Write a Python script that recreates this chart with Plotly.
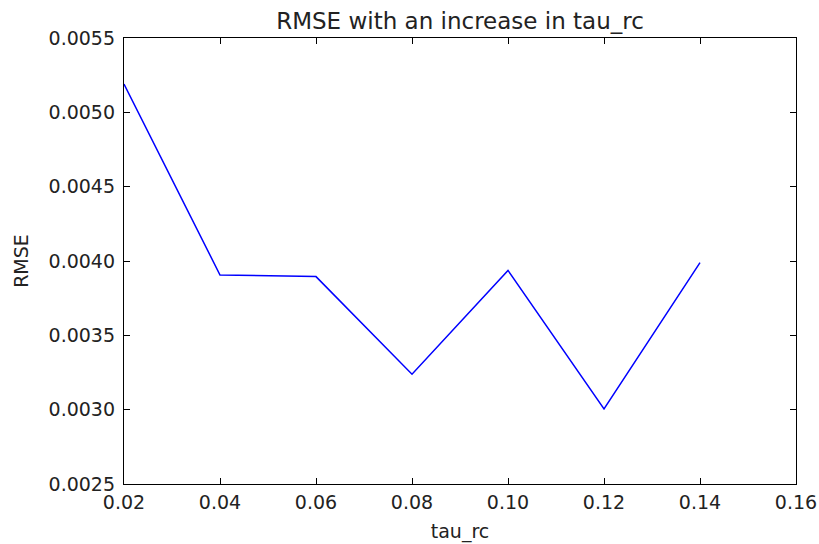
import plotly.graph_objects as go

tau_rc = [0.02, 0.04, 0.06, 0.08, 0.10, 0.12, 0.14]
rmse = [0.00519, 0.003906, 0.003895, 0.003238, 0.003937, 0.003005, 0.003989]

x_ticks = [0.02, 0.04, 0.06, 0.08, 0.10, 0.12, 0.14, 0.16]
y_ticks = [0.0025, 0.0030, 0.0035, 0.0040, 0.0045, 0.0050, 0.0055]

FONT = "DejaVu Sans"

fig = go.Figure()
fig.add_trace(go.Scatter(
    x=tau_rc, y=rmse, mode="lines",
    line=dict(color="#0000ff", width=1.5),
    showlegend=False,
))

axis_common = dict(
    automargin=False,
    showgrid=False, zeroline=False,
    showline=True, linecolor="black", linewidth=1.3,
    mirror="ticks", ticks="inside", ticklen=6, tickwidth=1, tickcolor="black",
    tickfont=dict(family=FONT, size=19, color="#222222"),
)

fig.update_layout(
    width=819, height=544,
    margin=dict(l=124, r=23, t=38, b=60),
    paper_bgcolor="white", plot_bgcolor="white",
    title=dict(
        text="RMSE with an increase in tau_rc",
        x=0.5, xref="paper", xanchor="center",
        y=1 - 21 / 544, yref="container", yanchor="middle",
        font=dict(family=FONT, size=23, color="#222222"),
    ),
    xaxis=dict(
        range=[0.02, 0.16], tickvals=x_ticks, tickformat=".2f",
        title=dict(text="tau_rc", font=dict(family=FONT, size=19, color="#222222"), standoff=12),
        ticklabelstandoff=1,
        **axis_common,
    ),
    yaxis=dict(
        range=[0.0025, 0.0055], tickvals=y_ticks, tickformat=".4f",
        title=dict(text="RMSE", font=dict(family=FONT, size=19, color="#222222"), standoff=14),
        ticklabelstandoff=4,
        **axis_common,
    ),
)

fig.write_html("out.html")
